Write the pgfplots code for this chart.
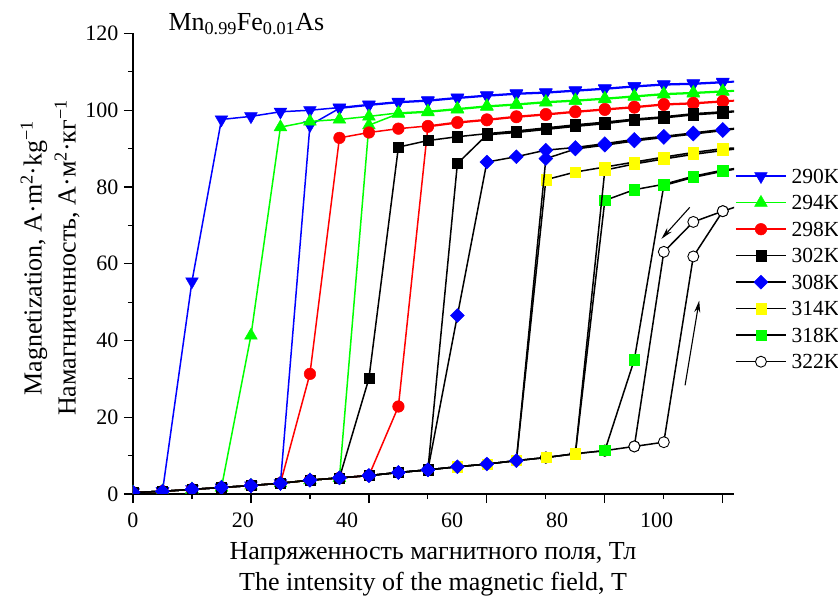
\documentclass[border=0pt]{standalone}
\usepackage{fontspec}
\setmainfont{Liberation Serif}
\usepackage{pgfplots}
\pgfplotsset{compat=1.18}
\usetikzlibrary{arrows.meta}
\definecolor{pgreen}{rgb}{0,1,0}
\definecolor{pblue}{rgb}{0,0,1}
\definecolor{pred}{rgb}{1,0,0}
\definecolor{pyellow}{rgb}{1,1,0}
\pgfplotsset{
  s290/.style={pblue, line width=1.5bp, mark=triangle*, mark size=7.3bp, mark options={rotate=180, fill=pblue, draw=pblue, line width=0.5bp}},
  s294/.style={pgreen, line width=1.5bp, mark=triangle*, mark size=7.3bp, mark options={fill=pgreen, draw=pgreen, line width=0.5bp}},
  s298/.style={pred, line width=1.5bp, mark=*, mark size=5.8bp, mark options={fill=pred, draw=pred, line width=0.5bp}},
  s302/.style={black, line width=1.5bp, mark=square*, mark size=5.1bp, mark options={fill=black, draw=black, line width=0.5bp}},
  s308/.style={black, line width=1.5bp, mark=square*, mark size=4.9bp, mark options={rotate=45, fill=pblue, draw=pblue, line width=0.5bp}},
  s314/.style={black, line width=1.5bp, mark=square*, mark size=5.1bp, mark options={fill=pyellow, draw=pyellow, line width=0.5bp}},
  s318/.style={black, line width=1.5bp, mark=square*, mark size=5.1bp, mark options={fill=pgreen, draw=pgreen, line width=0.5bp}},
  s322/.style={black, line width=1.5bp, mark=*, mark size=5.5bp, mark options={fill=white, draw=black, line width=0.9bp}},
}
\begin{document}
\begin{tikzpicture}[font=\fontsize{22bp}{26bp}\selectfont]
\begin{axis}[
  at={(0,0)}, anchor=south west,
  scale only axis, width=601bp, height=460.5bp,
  xmin=0, xmax=101.9, ymin=0, ymax=120,
  axis x line=bottom, axis y line=left,
  axis line style={-, line width=1.3bp, black},
  tick align=outside,
  major tick length=9bp, minor tick length=5bp,
  every tick/.style={line width=1.2bp, black},
  xtick={0,20,...,100}, xticklabels={},
  minor x tick num=1,
  extra x ticks={0,18.65,36.3,54.1,71.9,88.8},
  extra x tick labels={0,20,40,60,80,100},
  extra x tick style={major tick length=0pt, xticklabel style={yshift=-15bp}},
  ytick={0,20,...,120}, minor y tick num=1,
  yticklabel style={xshift=-2bp},
  /pgf/number format/assume math mode=true,
  clip marker paths=true,
  legend style={at={(1,0.7193)}, anchor=north west, xshift=1bp, draw=none, fill=none,
    inner sep=0pt, row sep=0pt, column sep=2.5bp, font=\fontsize{21.5bp}{25bp}\selectfont,
    nodes={inner xsep=2.5bp, inner ysep=0pt, text height=20.5bp, text depth=6bp, anchor=west}},
  legend cell align=left,
  legend image code/.code={\draw[mark repeat=2,mark phase=2,#1] plot coordinates {(0bp,0bp) (25bp,0bp) (50bp,0bp)};},
]
\addlegendimage{s290}\addlegendentry{290K}
\addlegendimage{s294}\addlegendentry{294K}
\addlegendimage{s298}\addlegendentry{298K}
\addlegendimage{s302}\addlegendentry{302K}
\addlegendimage{s308}\addlegendentry{308K}
\addlegendimage{s314}\addlegendentry{314K}
\addlegendimage{s318}\addlegendentry{318K}
\addlegendimage{s322}\addlegendentry{322K}

% 322K
\addplot[s322, forget plot] coordinates {
(0,0.4)(5,0.7)(10,1.2)(15,1.7)(20,2.2)(25,2.8)(30,3.6)(35,4.2)(40,4.8)(45,5.6)(50,6.3)(55,7.1)(60,7.8)(65,8.7)(70,9.5)(75,10.5)(80,11.3)(85,12.4)(90,13.5)
(95,61.9)(100,73.7)(105,76.2)
(100,73.7)(95,70.9)(90,63.1)(85,12.4)(80,11.3)(75,10.5)(70,9.5)(65,8.7)(60,7.8)(55,7.1)(50,6.3)(45,5.6)(40,4.8)(35,4.2)(30,3.6)(25,2.8)(20,2.2)(15,1.7)(10,1.2)(5,0.7)(0,0.4)};
% 318K
\addplot[s318, forget plot] coordinates {
(0,0.4)(5,0.7)(10,1.2)(15,1.7)(20,2.2)(25,2.8)(30,3.6)(35,4.2)(40,4.8)(45,5.6)(50,6.3)(55,7.1)(60,7.8)(65,8.7)(70,9.5)(75,10.5)(80,11.3)
(85,35.0)(90,80.4)(95,82.5)(100,84.1)(105,85.4)
(100,84.4)(95,82.8)(90,80.7)(85,79.3)(80,76.5)(75,10.5)(70,9.5)(65,8.7)(60,7.8)(55,7.1)(50,6.3)(45,5.6)(40,4.8)(35,4.2)(30,3.6)(25,2.8)(20,2.2)(15,1.7)(10,1.2)(5,0.7)(0,0.4)};
% 314K
\addplot[s314, forget plot] coordinates {
(0,0.4)(5,0.7)(10,1.2)(15,1.7)(20,2.2)(25,2.8)(30,3.6)(35,4.2)(40,4.8)(45,5.6)(50,6.3)(55,7.1)(60,7.8)(65,8.7)(70,9.5)(75,10.5)
(80,84.4)(85,86.0)(90,87.3)(95,88.5)(100,89.5)(105,90.4)
(100,90.0)(95,89.0)(90,87.8)(85,86.5)(80,85.2)(75,83.9)(70,81.9)(65,8.7)(60,7.8)(55,7.1)(50,6.3)(45,5.6)(40,4.8)(35,4.2)(30,3.6)(25,2.8)(20,2.2)(15,1.7)(10,1.2)(5,0.7)(0,0.4)};
% 290K
\addplot[s290, forget plot] coordinates {
(0,0.4)(5,0.7)(10,1.2)(15,1.7)(20,2.2)(25,2.8)
(30,96.1)(35,100.5)(40,101.3)(45,102.0)(50,102.4)(55,103.1)(60,103.7)(65,104.2)(70,104.5)(75,105.0)(80,105.5)(85,106.1)(90,106.6)(95,106.8)(100,107.2)(105,107.7)
(100,107.4)(95,107.0)(90,106.8)(85,106.3)(80,105.7)(75,105.2)(70,104.7)(65,104.4)(60,103.9)(55,103.3)(50,102.6)(45,102.2)(40,101.5)(35,100.7)(30,100.0)(25,99.6)(20,98.4)(15,97.6)
(10,55.4)(5,0.7)(0,0.4)};
% 294K
\addplot[s294, forget plot] coordinates {
(0,0.4)(5,0.7)(10,1.2)(15,1.7)(20,2.2)(25,2.8)(30,3.6)(35,4.2)
(40,96.1)(45,99.1)(50,99.5)(55,100.2)(60,100.9)(65,101.4)(70,102.0)(75,102.4)(80,102.9)(85,103.5)(90,104.1)(95,104.4)(100,104.8)(105,105.3)
(100,105.0)(95,104.6)(90,104.3)(85,103.7)(80,103.1)(75,102.6)(70,102.2)(65,101.6)(60,101.1)(55,100.4)(50,99.7)(45,99.3)(40,98.4)(35,97.6)(30,97.1)(25,95.6)
(20,41.3)(15,1.7)(10,1.2)(5,0.7)(0,0.4)};
% 298K
\addplot[s298, forget plot] coordinates {
(0,0.4)(5,0.7)(10,1.2)(15,1.7)(20,2.2)(25,2.8)(30,3.6)(35,4.2)(40,4.8)
(45,22.8)(50,95.7)(55,96.7)(60,97.4)(65,98.2)(70,98.8)(75,99.5)(80,100.1)(85,100.7)(90,101.4)(95,101.7)(100,102.2)(105,102.8)
(100,102.4)(95,101.9)(90,101.6)(85,100.9)(80,100.3)(75,99.7)(70,99.0)(65,98.4)(60,97.6)(55,96.9)(50,95.9)(45,95.2)(40,94.2)(35,92.8)
(30,31.3)(25,2.8)(20,2.2)(15,1.7)(10,1.2)(5,0.7)(0,0.4)};
% 302K
\addplot[s302, forget plot] coordinates {
(0,0.4)(5,0.7)(10,1.2)(15,1.7)(20,2.2)(25,2.8)(30,3.6)(35,4.2)(40,4.8)(45,5.6)(50,6.3)
(55,86.1)(60,93.6)(65,94.2)(70,95.0)(75,95.8)(80,96.5)(85,97.4)(90,98.0)(95,98.8)(100,99.3)(105,100.1)
(100,99.6)(95,99.1)(90,98.3)(85,97.7)(80,96.9)(75,96.2)(70,95.4)(65,94.6)(60,93.9)(55,93.1)(50,92.1)(45,90.4)
(40,30.1)(35,4.2)(30,3.6)(25,2.8)(20,2.2)(15,1.7)(10,1.2)(5,0.7)(0,0.4)};
% 308K
\addplot[s308, forget plot] coordinates {
(0,0.4)(5,0.7)(10,1.2)(15,1.7)(20,2.2)(25,2.8)(30,3.6)(35,4.2)(40,4.8)(45,5.6)(50,6.3)(55,7.1)(60,7.8)(65,8.7)
(70,87.4)(75,89.9)(80,90.9)(85,92.0)(90,92.9)(95,93.8)(100,94.7)(105,95.7)
(100,95.0)(95,94.1)(90,93.2)(85,92.4)(80,91.3)(75,90.3)(70,89.6)(65,87.9)(60,86.5)
(55,46.5)(50,6.3)(45,5.6)(40,4.8)(35,4.2)(30,3.6)(25,2.8)(20,2.2)(15,1.7)(10,1.2)(5,0.7)(0,0.4)};

\draw[-{Stealth[length=12bp,width=6bp]}, line width=1.1bp] (axis cs:94.4,74.7) -- (axis cs:89.6,66.5);
\draw[-{Stealth[length=12bp,width=6bp]}, line width=1.1bp] (axis cs:93.6,28.3) -- (axis cs:96.0,50.4);
\end{axis}
\node[anchor=base west, font=\fontsize{26bp}{30bp}\selectfont] at (32bp,463bp) {Mn\textsubscript{0.99}Fe\textsubscript{0.01}As};
\node[rotate=90, align=center, font=\fontsize{26bp}{34bp}\selectfont] at (-83bp,236bp) {Magnetization, A·m\textsuperscript{2}·kg\textsuperscript{−1}\\Намагниченность, А·м\textsuperscript{2}·кг\textsuperscript{−1}};
\node[align=center, font=\fontsize{26bp}{31bp}\selectfont] at (300bp,-75bp) {Напряженность магнитного поля, Тл\\The intensity of the magnetic field, T};
\pgfresetboundingbox
\useasboundingbox (-133bp,-111bp) rectangle (705bp,494bp);
\end{tikzpicture}
\end{document}
